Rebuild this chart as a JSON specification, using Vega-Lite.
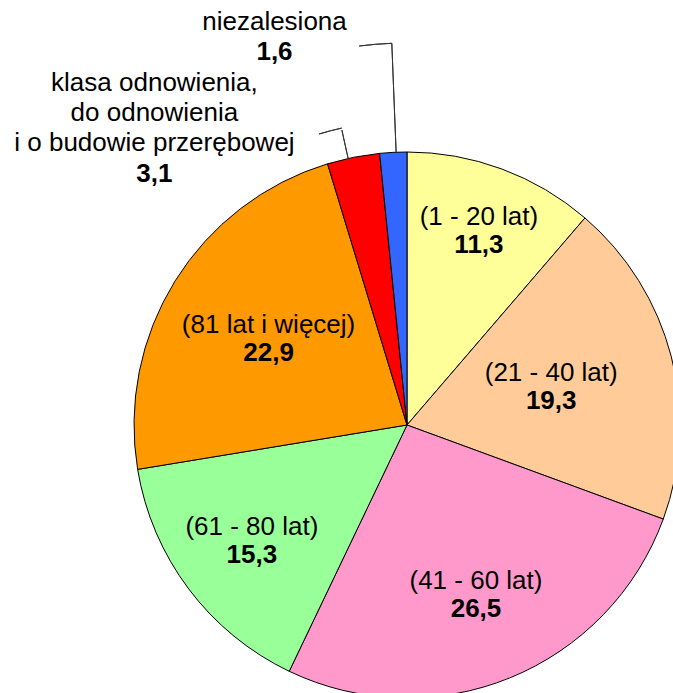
{
  "$schema": "https://vega.github.io/schema/vega-lite/v6.json",
  "width": 814,
  "height": 850,
  "padding": 0,
  "autosize": "none",
  "background": "white",
  "config": {
    "view": {"stroke": null},
    "locale": {"number": {"decimal": ",", "thousands": " ", "grouping": [3], "currency": ["", " zł"]}},
    "text": {"font": "Liberation Sans", "fontSize": 26, "fill": "black", "align": "center", "baseline": "middle"}
  },
  "data": {
    "values": [
      {"idx": 1, "name": "(1 - 20 lat)", "value": 11.3},
      {"idx": 2, "name": "(21 - 40 lat)", "value": 19.3},
      {"idx": 3, "name": "(41 - 60 lat)", "value": 26.5},
      {"idx": 4, "name": "(61 - 80 lat)", "value": 15.3},
      {"idx": 5, "name": "(81 lat i więcej)", "value": 22.9},
      {"idx": 6, "name": "klasa odnowienia,\ndo odnowienia\ni o budowie przerębowej", "value": 3.1},
      {"idx": 7, "name": "niezalesiona", "value": 1.6}
    ]
  },
  "encoding": {
    "theta": {"field": "value", "type": "quantitative", "stack": true},
    "order": {"field": "idx", "type": "quantitative"}
  },
  "layer": [
    {
      "mark": {"type": "arc", "outerRadius": 273, "stroke": "black", "strokeWidth": 1},
      "encoding": {
        "color": {
          "field": "idx", "type": "nominal", "legend": null,
          "scale": {
            "domain": [1, 2, 3, 4, 5, 6, 7],
            "range": ["#FFFF99", "#FFCC99", "#FF99CC", "#99FF99", "#FF9900", "#FF0000", "#3366FF"]
          }
        }
      }
    },
    {
      "transform": [
        {"stack": "value", "groupby": [], "sort": [{"field": "idx", "order": "ascending"}], "as": ["v0", "v1"]},
        {"filter": "datum.idx === 7"}
      ],
      "layer": [
        {"mark": {"type": "arc", "innerRadius": 273, "outerRadius": 382, "thetaOffset": -0.0398, "theta2Offset": -0.0398, "fill": null, "stroke": "#333333", "strokeWidth": 1}},
        {"mark": {"type": "arc", "innerRadius": 382, "outerRadius": 382, "thetaOffset": -0.1254, "theta2Offset": -0.0393, "fill": null, "stroke": "#333333", "strokeWidth": 1}}
      ],
      "encoding": {
        "theta": {"field": "v1", "type": "quantitative", "stack": null},
        "theta2": {"field": "v1"}
      }
    },
    {
      "transform": [
        {"stack": "value", "groupby": [], "sort": [{"field": "idx", "order": "ascending"}], "as": ["v0", "v1"]},
        {"filter": "datum.idx === 6"}
      ],
      "layer": [
        {"mark": {"type": "arc", "innerRadius": 273, "outerRadius": 302, "thetaOffset": -0.1168, "theta2Offset": -0.1168, "fill": null, "stroke": "#333333", "strokeWidth": 1}},
        {"mark": {"type": "arc", "innerRadius": 304, "outerRadius": 304, "thetaOffset": -0.1927, "theta2Offset": -0.1159, "fill": null, "stroke": "#333333", "strokeWidth": 1}}
      ],
      "encoding": {
        "theta": {"field": "v1", "type": "quantitative", "stack": null},
        "theta2": {"field": "v1"}
      }
    },
    {
      "mark": {"type": "text", "radius": 207, "dy": -14},
      "encoding": {"text": {"condition": {"test": "datum.idx !== 1", "value": ""}, "field": "name", "type": "nominal"}}
    },
    {
      "mark": {"type": "text", "radius": 207, "dy": 14, "fontWeight": "bold"},
      "encoding": {"text": {"condition": {"test": "datum.idx !== 1", "value": ""}, "field": "value", "type": "quantitative", "format": ".1f"}}
    },
    {
      "mark": {"type": "text", "radius": 149, "dy": -14},
      "encoding": {"text": {"condition": {"test": "datum.idx !== 2", "value": ""}, "field": "name", "type": "nominal"}}
    },
    {
      "mark": {"type": "text", "radius": 149, "dy": 14, "fontWeight": "bold"},
      "encoding": {"text": {"condition": {"test": "datum.idx !== 2", "value": ""}, "field": "value", "type": "quantitative", "format": ".1f"}}
    },
    {
      "mark": {"type": "text", "radius": 183, "dy": -14},
      "encoding": {"text": {"condition": {"test": "datum.idx !== 3", "value": ""}, "field": "name", "type": "nominal"}}
    },
    {
      "mark": {"type": "text", "radius": 183, "dy": 14, "fontWeight": "bold"},
      "encoding": {"text": {"condition": {"test": "datum.idx !== 3", "value": ""}, "field": "value", "type": "quantitative", "format": ".1f"}}
    },
    {
      "mark": {"type": "text", "radius": 194, "dy": -14},
      "encoding": {"text": {"condition": {"test": "datum.idx !== 4", "value": ""}, "field": "name", "type": "nominal"}}
    },
    {
      "mark": {"type": "text", "radius": 194, "dy": 14, "fontWeight": "bold"},
      "encoding": {"text": {"condition": {"test": "datum.idx !== 4", "value": ""}, "field": "value", "type": "quantitative", "format": ".1f"}}
    },
    {
      "mark": {"type": "text", "radius": 163, "dy": -14},
      "encoding": {"text": {"condition": {"test": "datum.idx !== 5", "value": ""}, "field": "name", "type": "nominal"}}
    },
    {
      "mark": {"type": "text", "radius": 163, "dy": 14, "fontWeight": "bold"},
      "encoding": {"text": {"condition": {"test": "datum.idx !== 5", "value": ""}, "field": "value", "type": "quantitative", "format": ".1f"}}
    },
    {
      "mark": {"type": "text", "radius": 388, "dx": -113, "dy": -15},
      "encoding": {"text": {"condition": {"test": "datum.idx !== 7", "value": ""}, "field": "name", "type": "nominal"}}
    },
    {
      "mark": {"type": "text", "radius": 388, "dx": -113, "dy": 15, "fontWeight": "bold"},
      "encoding": {"text": {"condition": {"test": "datum.idx !== 7", "value": ""}, "field": "value", "type": "quantitative", "format": ".1f"}}
    },
    {
      "mark": {"type": "text", "radius": 303, "dx": -193, "dy": -45, "lineBreak": "\n", "lineHeight": 30},
      "encoding": {"text": {"condition": {"test": "datum.idx !== 6", "value": ""}, "field": "name", "type": "nominal"}}
    },
    {
      "mark": {"type": "text", "radius": 303, "dx": -193, "dy": 46, "fontWeight": "bold"},
      "encoding": {"text": {"condition": {"test": "datum.idx !== 6", "value": ""}, "field": "value", "type": "quantitative", "format": ".1f"}}
    }
  ]
}
